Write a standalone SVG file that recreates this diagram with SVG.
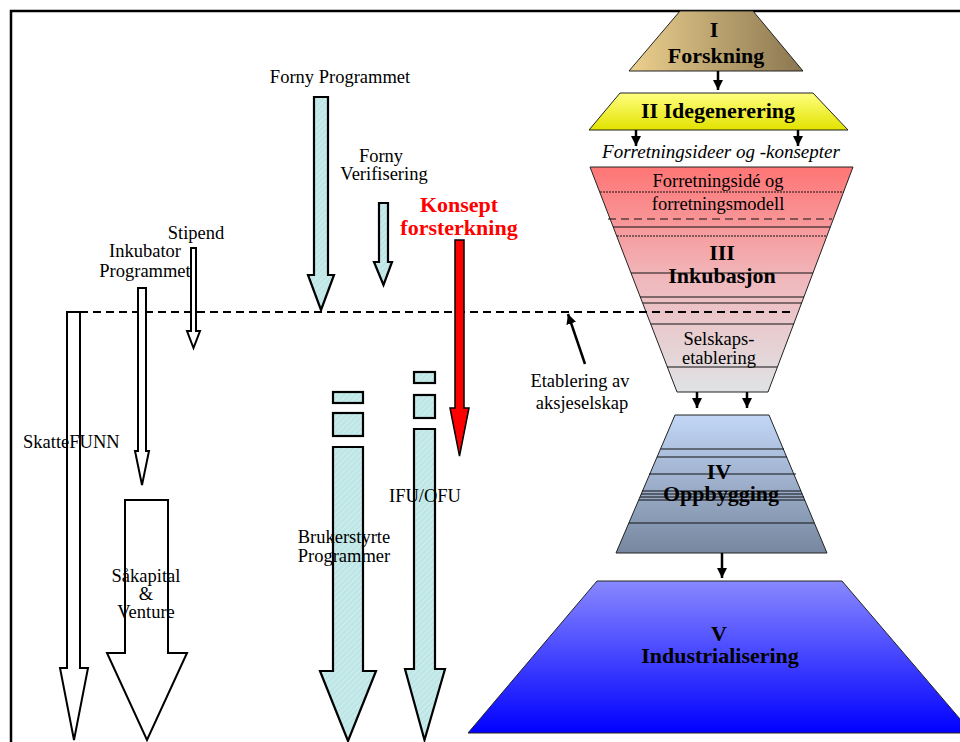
<svg xmlns="http://www.w3.org/2000/svg" width="960" height="742" viewBox="0 0 960 742">
<style>
text{font-family:"Liberation Serif","Times New Roman",serif;fill:#000}
.r{font-size:18.5px}
.b{font-size:22px;font-weight:bold}
.it{font-size:19px;font-style:italic}
.m{text-anchor:middle}
.stage{stroke:#222;stroke-width:1}
.ln{stroke:#111;stroke-width:1;fill:none}
.hol{fill:#fff;stroke:#000;stroke-width:2;stroke-linejoin:miter}
.cy{fill:url(#hatch);stroke:#000;stroke-width:2.2}
.con{stroke:#000;stroke-width:2.5;fill:none}
</style>
<defs>
<linearGradient id="gI" x1="0" y1="0" x2="1" y2="0"><stop offset="0" stop-color="#ecd08e"/><stop offset="1" stop-color="#8a7650"/></linearGradient>
<linearGradient id="gII" x1="0" y1="0" x2="0" y2="1"><stop offset="0" stop-color="#ffff80"/><stop offset="1" stop-color="#e2e200"/></linearGradient>
<linearGradient id="gIII" x1="0" y1="0" x2="0" y2="1"><stop offset="0" stop-color="#ff7575"/><stop offset="0.5" stop-color="#f0b8bc"/><stop offset="1" stop-color="#dfe3e5"/></linearGradient>
<linearGradient id="gIV" x1="0" y1="0" x2="0" y2="1"><stop offset="0" stop-color="#c2d6f6"/><stop offset="1" stop-color="#77879f"/></linearGradient>
<linearGradient id="gV" x1="0" y1="0" x2="0" y2="1"><stop offset="0" stop-color="#8888ff"/><stop offset="1" stop-color="#0000ff"/></linearGradient>
<pattern id="hatch" width="4" height="4" patternUnits="userSpaceOnUse" patternTransform="rotate(45)">
<rect width="4" height="4" fill="#bfe6e6"/><line x1="0" y1="0" x2="0" y2="4" stroke="#d6f1f1" stroke-width="1.5"/>
</pattern>
<marker id="ah" markerWidth="10" markerHeight="10" refX="10" refY="5" orient="auto" markerUnits="userSpaceOnUse">
<path d="M0,0 L10,5 L0,10 z" fill="#000"/>
</marker>
</defs>

<path d="M11,742 V11 H960" fill="none" stroke="#000" stroke-width="2.5"/>

<g id="stage-I">
<polygon class="stage" points="680,11 753,11 803,71 629,71" fill="url(#gI)"/>
<text class="b m" x="714" y="37">I</text>
<text class="b m" x="716" y="63">Forskning</text>
</g>

<g id="stage-II">
<polygon class="stage" points="620,93 813,93 848,130 589,130" fill="url(#gII)"/>
<text class="b m" x="718" y="118">II Idegenerering</text>
</g>

<g id="ideas-label">
<text class="it m" x="721" y="158">Forretningsideer og -konsepter</text>
</g>

<g id="stage-III">
<polygon class="stage" points="590,167 853,167 768,392 677,392" fill="url(#gIII)"/>
<line class="ln" x1="600" y1="192" x2="844" y2="192" stroke-dasharray="2,1"/>
<line class="ln" x1="608" y1="219" x2="832" y2="219" stroke-width="2.5" stroke-dasharray="8,5"/>
<line class="ln" x1="613" y1="227" x2="830" y2="227"/>
<line class="ln" x1="617" y1="236" x2="827" y2="236" stroke-dasharray="2,1"/>
<line class="ln" x1="631" y1="273" x2="813" y2="273"/>
<line class="ln" x1="640" y1="297" x2="804" y2="297"/>
<line class="ln" x1="643" y1="303" x2="802" y2="303"/>
<line class="ln" x1="651" y1="324" x2="794" y2="324"/>
<line class="ln" x1="667" y1="367" x2="777" y2="367"/>
<text class="r m" x="718" y="187">Forretningsidé og</text>
<text class="r m" x="718" y="210">forretningsmodell</text>
<text class="b m" x="722" y="260">III</text>
<text class="b m" x="722" y="283">Inkubasjon</text>
<text class="r m" x="719" y="345">Selskaps-</text>
<text class="r m" x="719" y="364">etablering</text>
</g>

<g id="stage-IV">
<polygon class="stage" points="675,415 769,415 827,553 616,553" fill="url(#gIV)"/>
<line class="ln" x1="661" y1="449" x2="784" y2="449"/>
<line class="ln" x1="657" y1="457" x2="787" y2="457"/>
<line class="ln" x1="649" y1="474" x2="796" y2="474"/>
<line class="ln" x1="642" y1="491" x2="801" y2="491"/>
<line class="ln" x1="641" y1="494" x2="802" y2="494"/>
<line class="ln" x1="640" y1="497" x2="804" y2="497"/>
<line class="ln" x1="639" y1="500" x2="805" y2="500"/>
<line class="ln" x1="629" y1="523" x2="814" y2="523"/>
<text class="b m" x="719" y="479">IV</text>
<text class="b m" x="721" y="501">Oppbygging</text>
</g>

<g id="stage-V">
<polygon class="stage" points="597,581 842,581 972,733 468,733" fill="url(#gV)"/>
<text class="b m" x="719" y="641">V</text>
<text class="b m" x="720" y="663">Industrialisering</text>
</g>

<g id="connectors">
<line class="con" x1="718" y1="71" x2="718" y2="90" marker-end="url(#ah)"/>
<line class="con" x1="636" y1="130" x2="636" y2="146" marker-end="url(#ah)"/>
<line class="con" x1="798" y1="130" x2="798" y2="146" marker-end="url(#ah)"/>
<line class="con" x1="697" y1="392" x2="697" y2="408" marker-end="url(#ah)"/>
<line class="con" x1="747" y1="392" x2="747" y2="408" marker-end="url(#ah)"/>
<line class="con" x1="722" y1="553" x2="722" y2="578" marker-end="url(#ah)"/>
<line x1="80" y1="312" x2="795" y2="312" stroke="#000" stroke-width="2" stroke-dasharray="8,5"/>
<line class="con" x1="585" y1="364" x2="568" y2="314" stroke-width="3" marker-end="url(#ah)"/>
</g>

<g id="skattefunn">
<polygon class="hol" points="67,312 80,312 80,668 88,668 74,740 60,668 67,668"/>
<text class="r" x="23" y="448">SkatteFUNN</text>
</g>

<g id="inkubator">
<polygon class="hol" points="138,288 146,288 146,451 149,451 142,485 135,451 138,451"/>
<text class="r m" x="145" y="257">Inkubator</text>
<text class="r m" x="145" y="277">Programmet</text>
</g>

<g id="stipend">
<polygon class="hol" stroke-width="1" points="191,248 196,248 196,331 200,331 193.5,348 187,331 191,331"/>
<text class="r m" x="196" y="239">Stipend</text>
</g>

<g id="saakapital">
<polygon class="hol" points="125,500 168,500 168,653 187,653 147,740 107,653 125,653"/>
<text class="r m" x="146" y="582">Såkapital</text>
<text class="r m" x="146" y="600">&amp;</text>
<text class="r m" x="146" y="618">Venture</text>
</g>

<g id="forny-programmet">
<polygon class="cy" points="314,97 328,97 328,275 334,275 321,310 308,275 314,275"/>
<text class="r m" x="340" y="83">Forny Programmet</text>
</g>

<g id="forny-verifisering">
<polygon class="cy" points="379,203 388,203 388,262 392,262 383.5,285 374,262 379,262"/>
<text class="r m" x="381" y="162">Forny</text>
<text class="r m" x="384" y="180">Verifisering</text>
</g>

<g id="konsept">
<polygon fill="#ff0000" stroke="#000" stroke-width="1.5" points="455,240 464,240 464,408 469,408 459.5,456 450,408 455,408"/>
<text class="b m" x="459" y="212" style="fill:#ff0000">Konsept</text>
<text class="b m" x="459" y="235" style="fill:#ff0000">forsterkning</text>
</g>

<g id="brukerstyrte">
<rect class="cy" x="333" y="392" width="30" height="11"/>
<rect class="cy" x="333" y="413" width="30" height="23"/>
<polygon class="cy" points="333,447 363,447 363,671 376,671 348,741 320,671 333,671"/>
<text class="r m" x="344" y="543">Brukerstyrte</text>
<text class="r m" x="344" y="562">Programmer</text>
</g>

<g id="ifu-ofu">
<rect class="cy" x="414" y="372" width="21" height="11"/>
<rect class="cy" x="414" y="395" width="21" height="23"/>
<polygon class="cy" points="414,429 435,429 435,669 445,669 424.5,740 405,669 414,669"/>
<text class="r m" x="425" y="502">IFU/OFU</text>
</g>

<g id="etablering-label">
<text class="r m" x="580" y="387">Etablering av</text>
<text class="r m" x="582" y="409">aksjeselskap</text>
</g>
</svg>
